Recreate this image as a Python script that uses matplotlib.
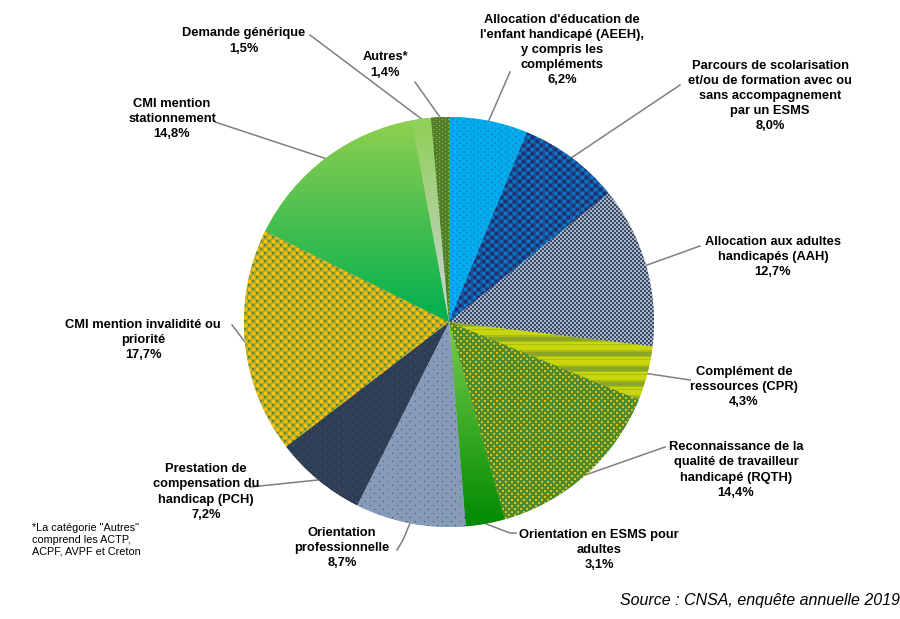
import numpy as np
import matplotlib.pyplot as plt

# Shares of each request type, clockwise from the top
values = [6.2, 8.0, 12.7, 4.3, 14.4, 3.1, 8.7, 7.2, 17.7, 14.8, 1.5, 1.4]

labels = ["Allocation d'éducation de\nl'enfant handicapé (AEEH),\ny compris les\ncompléments\n6,2%",
          "Parcours de scolarisation\net/ou de formation avec ou\nsans accompagnement\npar un ESMS\n8,0%",
          "Allocation aux adultes\nhandicapés (AAH)\n12,7%",
          "Complément de\nressources (CPR)\n4,3%",
          "Reconnaissance de la\nqualité de travailleur\nhandicapé (RQTH)\n14,4%",
          "Orientation en ESMS pour\nadultes\n3,1%",
          "Orientation\nprofessionnelle\n8,7%",
          "Prestation de\ncompensation du\nhandicap (PCH)\n7,2%",
          "CMI mention invalidité ou\npriorité\n17,7%",
          "CMI mention\nstationnement\n14,8%",
          "Demande générique\n1,5%",
          "Autres*\n1,4%"]

# label centre in pixels
label_x = [562, 770, 773, 744, 736, 599, 342, 206, 143, 172, 244, 385]
label_y = [50, 96, 257, 387, 470, 550, 548, 492, 340, 119, 41, 65]

# where the leader line stops, in pixels
line_x = [[510], [680], [700], [690], [665], [510, 516], [403, 397], [250], [232], [215], [310], [415]]
line_y = [[72], [85], [246], [380], [447], [533, 533], [540, 550], [487], [325], [122], [35], [82]]

# tiles for the patterned slices, top to bottom
blue = [[0, 0, 0, 0, 0, 0, 0],
        [0, 1, 1, 0, 0, 0, 0],
        [0, 1, 1, 0, 0, 0, 0],
        [0, 0, 0, 0, 0, 0, 0],
        [0, 0, 0, 0, 1, 1, 0],
        [0, 0, 0, 0, 1, 1, 0]]
check = [[2, 2, 2, 0, 0, 1, 1, 1, 0],
         [2, 2, 2, 0, 0, 1, 1, 1, 0],
         [2, 2, 2, 0, 0, 1, 1, 1, 0],
         [0, 0, 0, 0, 0, 0, 0, 0, 0],
         [1, 1, 1, 0, 0, 2, 2, 2, 0],
         [1, 1, 1, 0, 0, 2, 2, 2, 0],
         [1, 1, 1, 0, 0, 2, 2, 2, 0],
         [0, 0, 0, 0, 0, 0, 0, 0, 0]]
fine = [[0, 0, 1, 1],
        [0, 0, 1, 1],
        [1, 1, 0, 0],
        [1, 1, 0, 0]]
stripes = [[0], [0], [0], [0], [0], [1], [1], [2], [2], [2], [2], [1], [0], [0], [1]]
dashes = [[0, 0, 0, 0, 0, 0],
          [0, 1, 1, 0, 0, 0],
          [0, 1, 1, 0, 0, 0],
          [0, 0, 0, 0, 0, 0],
          [0, 0, 0, 0, 1, 1],
          [0, 0, 0, 0, 1, 1]]
dots = [[0, 0, 0, 0, 0, 0, 0, 0, 0],
        [0, 1, 0, 0, 0, 0, 0, 0, 0],
        [0, 0, 0, 0, 0, 0, 0, 0, 0],
        [0, 0, 0, 0, 0, 0, 0, 0, 0],
        [0, 0, 0, 0, 0, 0, 0, 0, 0],
        [0, 0, 0, 0, 0, 1, 0, 0, 0],
        [0, 0, 0, 0, 0, 0, 0, 0, 0],
        [0, 0, 0, 0, 0, 0, 0, 0, 0]]
weave = [[1, 1, 1, 3, 2, 2, 3, 3],
         [1, 1, 1, 3, 2, 2, 3, 3],
         [1, 1, 1, 3, 3, 3, 3, 3],
         [3, 3, 3, 3, 3, 3, 3, 3],
         [2, 2, 3, 3, 1, 1, 1, 3],
         [2, 2, 3, 3, 1, 1, 1, 3],
         [3, 3, 3, 3, 1, 1, 1, 3],
         [3, 3, 3, 3, 3, 3, 3, 3]]
spots = [[0, 0, 0, 0, 0, 0],
         [0, 1, 0, 0, 0, 0],
         [0, 0, 0, 0, 0, 0],
         [0, 0, 0, 0, 1, 0]]

tiles = [blue, check, fine, stripes, dashes, None, dots, dots, weave, None, None, spots]
palettes = [['#00AEEF', '#1A8FD0'],
            ['#1B4F93', '#0A78C8', '#23306B'],
            ['#A8B6CC', '#3A4862'],
            ['#C9D60A', '#A6BD14', '#8BA528'],
            ['#4F8A2F', '#D8C21A'],
            ['#6CC644', '#008A00'],
            ['#869BB8', '#3A4A63'],
            ['#2F3E55', '#4F6078'],
            ['#B8A82C', '#FFC000', '#4C8A35', '#B8A82C'],
            ['#92D050', '#00AF4F'],
            ['#8FCF55', '#CBD3DC'],
            ['#4F7F2A', '#B5B840']]

plt.rcParams['font.family'] = 'Liberation Sans'

fig = plt.figure(figsize=(9, 6.19), dpi=100)
ax = fig.add_axes([0, 0, 1, 1])

cx = 449
cy = 619 - 322
r = 205

wedges, _ = ax.pie(values, startangle=90, counterclock=False, center=(cx, cy), radius=r,
                   colors=[p[0] for p in palettes])

ax.set_aspect('equal')

for i in range(len(values)):
    w = wedges[i]
    rgb = np.array([plt.matplotlib.colors.to_rgb(c) for c in palettes[i]])
    if tiles[i] is None:
        # vertical gradient on the plain slices
        t = np.linspace(0, 1, 256).reshape(-1, 1, 1)
        img = rgb[0] * (1 - t) + rgb[1] * t
        if i == 5:
            extent = (cx - r, cx + r, cy - r, cy - 20)
        else:
            extent = (cx - r, cx + r, cy, cy + r)
    else:
        tile = np.array(tiles[i])
        img = rgb[np.tile(tile, (619 // tile.shape[0] + 1, 900 // tile.shape[1] + 1))][:619, :900]
        extent = (0, 900, 0, 619)
    im = ax.imshow(img, extent=extent, aspect='auto', interpolation='bilinear', zorder=2)
    im.set_clip_path(w)

    # leader line from the middle of the slice edge
    mid = np.deg2rad((w.theta1 + w.theta2) / 2)
    xs = [cx + r * np.cos(mid)] + line_x[i]
    ys = [cy + r * np.sin(mid)] + [619 - y for y in line_y[i]]
    ax.plot(xs, ys, color='#7F7F7F', lw=1.1, zorder=1)

    ax.text(label_x[i], 619 - label_y[i], labels[i], ha='center', va='center', fontsize=9.3,
            fontweight='bold', color='black', linespacing=1.34, zorder=3)

ax.text(32, 619 - 540, '*La catégorie "Autres"\ncomprend les ACTP,\nACPF, AVPF et Creton', ha='left', va='center',
        fontsize=7.8, linespacing=1.25)
ax.text(900, 619 - 601, 'Source : CNSA, enquête annuelle 2019', ha='right', va='center',
        fontsize=11.5, style='italic')

ax.set_xlim(0, 900)
ax.set_ylim(0, 619)
ax.axis('off')

plt.savefig('out.png', dpi=100)
